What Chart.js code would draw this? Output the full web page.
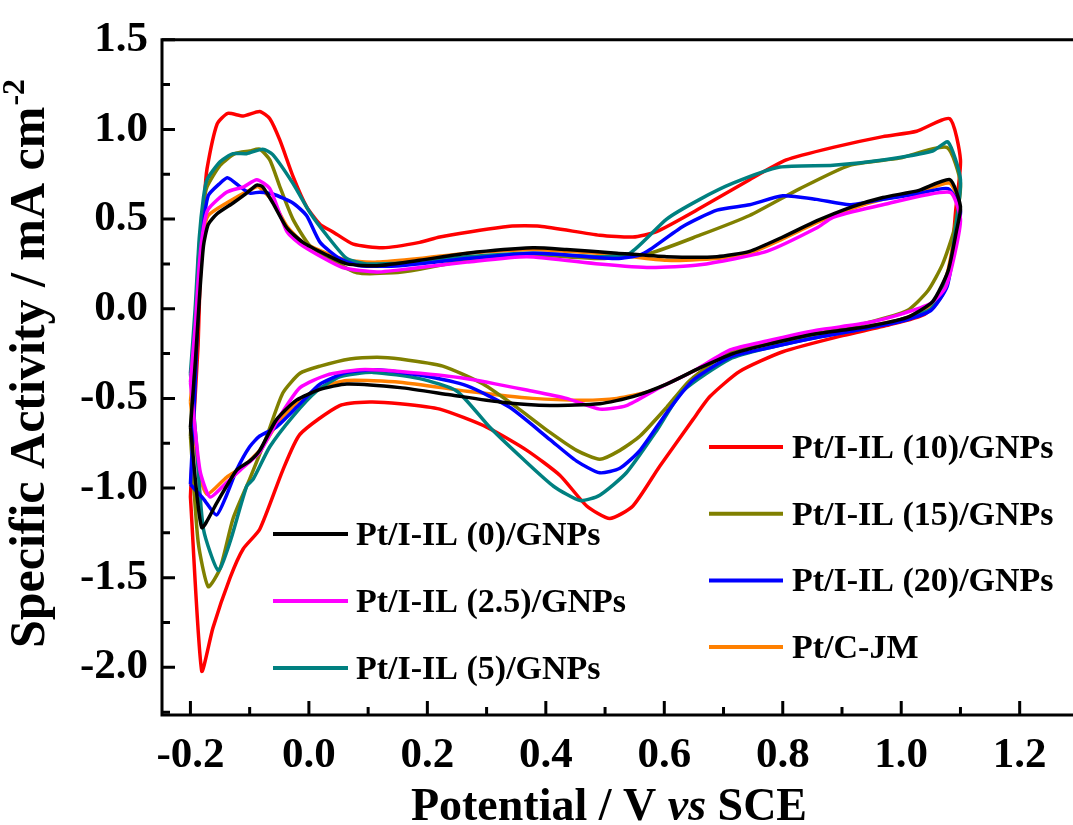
<!DOCTYPE html>
<html>
<head>
<meta charset="utf-8">
<script src="https://cdn.jsdelivr.net/npm/chart.js@4.4.1/dist/chart.umd.min.js"></script>
<style>
  html, body { margin: 0; padding: 0; background: #fff; overflow: hidden; }
  #wrap { width: 1073px; height: 825px; position: relative; }
</style>
</head>
<body>
<div id="wrap"><canvas id="c" width="1073" height="825"></canvas></div>
<script>
// ---------------- data ----------------
const seriesNames = ['Pt/I-IL (0)/GNPs', 'Pt/I-IL (2.5)/GNPs', 'Pt/I-IL (5)/GNPs',
                     'Pt/I-IL (10)/GNPs', 'Pt/I-IL (15)/GNPs', 'Pt/I-IL (20)/GNPs', 'Pt/C-JM'];

// Pt/I-IL (0)/GNPs  (anodic sweep then cathodic sweep)
const il0E = [-0.200,-0.192,-0.185,-0.178,-0.170,-0.155,-0.128,-0.105,-0.088,-0.078,
  -0.061,-0.037,-0.010,0.030,0.064,0.115,0.187,0.267,0.378,0.435,
  0.520,0.604,0.689,0.744,0.800,0.857,0.918,0.969,1.030,1.082,1.100,
  1.093,1.079,1.053,1.009,0.941,0.857,0.773,0.716,0.660,0.604,
  0.547,0.491,0.407,0.322,0.238,0.154,0.064,0.019,-0.021,-0.055,
  -0.083,-0.100,-0.122,-0.155,-0.181,-0.200];
const il0J = [-0.66,-0.31,0.05,0.35,0.47,0.53,0.59,0.645,0.69,0.68,
  0.59,0.45,0.37,0.30,0.25,0.24,0.27,0.31,0.34,0.33,
  0.31,0.29,0.29,0.32,0.40,0.49,0.57,0.62,0.66,0.72,0.57,
  0.43,0.21,0.04,-0.05,-0.10,-0.14,-0.20,-0.25,-0.33,-0.42,
  -0.49,-0.53,-0.54,-0.52,-0.48,-0.44,-0.42,-0.45,-0.51,-0.62,
  -0.79,-0.85,-0.90,-1.08,-1.22,-0.66];

// Pt/I-IL (2.5)/GNPs
const il25E = [-0.200,-0.192,-0.185,-0.178,-0.170,-0.139,-0.110,-0.088,-0.066,-0.037,
  -0.010,0.057,0.115,0.187,0.267,0.368,0.490,0.576,0.660,0.773,
  0.857,0.885,0.969,1.082,1.100,
  1.090,1.075,1.050,1.000,0.940,0.857,0.773,0.711,0.648,0.592,
  0.536,0.491,0.435,0.378,0.267,0.154,0.086,0.030,-0.015,-0.049,
  -0.083,-0.116,-0.139,-0.167,-0.184,-0.200];
const il25J = [-0.41,-0.10,0.25,0.45,0.555,0.65,0.68,0.72,0.67,0.43,
  0.35,0.23,0.205,0.23,0.26,0.29,0.25,0.23,0.245,0.32,
  0.45,0.51,0.58,0.65,0.50,
  0.30,0.12,0.03,-0.03,-0.08,-0.12,-0.18,-0.23,-0.35,-0.44,
  -0.54,-0.56,-0.50,-0.46,-0.39,-0.35,-0.34,-0.37,-0.44,-0.60,
  -0.80,-0.90,-0.97,-1.05,-0.90,-0.41];

// Pt/I-IL (5)/GNPs
const il5E = [-0.200,-0.192,-0.185,-0.178,-0.172,-0.150,-0.128,-0.105,-0.078,-0.061,
  -0.027,0.002,0.030,0.064,0.098,0.187,0.267,0.378,0.491,0.542,
  0.604,0.660,0.716,0.795,0.885,0.969,1.053,1.079,1.100,
  1.090,1.077,1.050,1.000,0.940,0.857,0.773,0.711,0.631,0.587,
  0.536,0.491,0.458,0.413,0.362,0.305,0.250,0.187,0.108,0.052,
  0.013,-0.027,-0.066,-0.094,-0.105,-0.133,-0.153,-0.178,-0.190,-0.200];
const il5J = [-0.36,0.00,0.40,0.62,0.72,0.82,0.865,0.865,0.89,0.86,
  0.70,0.535,0.41,0.28,0.25,0.26,0.29,0.31,0.29,0.31,
  0.50,0.61,0.70,0.79,0.80,0.83,0.88,0.93,0.72,
  0.40,0.15,0.00,-0.06,-0.11,-0.16,-0.22,-0.28,-0.46,-0.68,
  -0.915,-1.04,-1.07,-0.99,-0.84,-0.66,-0.46,-0.39,-0.355,-0.38,
  -0.46,-0.60,-0.77,-0.95,-0.99,-1.30,-1.46,-1.23,-0.75,-0.36];

// Pt/I-IL (10)/GNPs
const il10E = [-0.200,-0.194,-0.187,-0.184,-0.176,-0.172,-0.155,-0.137,-0.111,-0.083,
  -0.066,-0.049,-0.027,-0.004,0.019,0.040,0.075,0.125,0.187,0.221,
  0.339,0.390,0.491,0.547,0.587,0.660,0.744,0.806,0.885,0.969,
  1.026,1.082,1.100,
  1.092,1.085,1.070,1.040,0.980,0.901,0.800,0.727,0.677,0.648,
  0.592,0.547,0.508,0.469,0.424,0.368,0.300,0.221,0.154,0.103,
  0.052,-0.015,-0.044,-0.083,-0.111,-0.133,-0.162,-0.181,-0.200];
const il10J = [-1.05,-0.60,-0.20,0.13,0.63,0.78,1.03,1.09,1.075,1.10,
  1.06,0.94,0.74,0.57,0.47,0.43,0.36,0.34,0.37,0.40,
  0.46,0.46,0.41,0.40,0.43,0.56,0.72,0.83,0.90,0.96,
  0.99,1.06,0.83,
  0.55,0.30,0.08,-0.03,-0.09,-0.15,-0.24,-0.35,-0.49,-0.62,
  -0.88,-1.10,-1.17,-1.10,-0.93,-0.79,-0.66,-0.56,-0.53,-0.52,
  -0.54,-0.70,-0.90,-1.23,-1.34,-1.50,-1.78,-2.02,-1.05];

// Pt/I-IL (15)/GNPs
const il15E = [-0.200,-0.193,-0.186,-0.178,-0.172,-0.150,-0.125,-0.100,-0.083,-0.066,
  -0.049,-0.027,0.002,0.040,0.081,0.142,0.187,0.267,0.378,0.491,
  0.576,0.660,0.744,0.829,0.913,0.997,1.077,1.100,
  1.090,1.070,1.045,1.010,0.940,0.857,0.773,0.711,0.643,0.604,
  0.559,0.525,0.491,0.452,0.407,0.351,0.294,0.226,0.154,0.115,
  0.069,0.019,-0.015,-0.044,-0.071,-0.100,-0.128,-0.150,-0.170,-0.187,
  -0.200];
const il15J = [-0.71,-0.20,0.30,0.58,0.68,0.80,0.865,0.88,0.89,0.83,
  0.68,0.50,0.35,0.27,0.20,0.20,0.22,0.27,0.30,0.28,
  0.31,0.41,0.52,0.67,0.80,0.84,0.90,0.70,
  0.45,0.25,0.10,-0.01,-0.08,-0.14,-0.20,-0.24,-0.40,-0.55,
  -0.71,-0.79,-0.84,-0.79,-0.69,-0.55,-0.42,-0.32,-0.28,-0.27,
  -0.28,-0.32,-0.36,-0.47,-0.71,-0.95,-1.17,-1.45,-1.55,-1.30,
  -0.71];

// Pt/I-IL (20)/GNPs
const il20E = [-0.200,-0.193,-0.187,-0.180,-0.170,-0.150,-0.137,-0.116,-0.100,-0.083,
  -0.061,-0.027,-0.004,0.019,0.052,0.086,0.154,0.267,0.378,0.435,
  0.520,0.559,0.576,0.632,0.689,0.744,0.800,0.857,0.913,0.969,
  1.026,1.079,1.100,
  1.090,1.077,1.050,1.000,0.940,0.857,0.773,0.711,0.648,0.604,
  0.559,0.525,0.491,0.452,0.407,0.339,0.267,0.187,0.115,0.064,
  0.019,-0.015,-0.055,-0.083,-0.100,-0.122,-0.139,-0.156,-0.178,-0.200];
const il20J = [-0.98,-0.50,0.00,0.40,0.63,0.70,0.73,0.68,0.645,0.65,
  0.64,0.59,0.52,0.37,0.28,0.24,0.24,0.28,0.31,0.30,
  0.28,0.30,0.33,0.46,0.55,0.58,0.63,0.61,0.58,0.61,
  0.64,0.67,0.55,
  0.35,0.12,-0.01,-0.07,-0.11,-0.16,-0.22,-0.27,-0.40,-0.58,
  -0.79,-0.89,-0.915,-0.85,-0.73,-0.55,-0.43,-0.37,-0.34,-0.355,
  -0.42,-0.53,-0.66,-0.71,-0.77,-0.90,-1.04,-1.15,-1.06,-0.98];

// Pt/C-JM
const jmE = [-0.200,-0.192,-0.185,-0.178,-0.170,-0.139,-0.095,-0.085,-0.061,-0.037,
  -0.010,0.030,0.064,0.115,0.187,0.267,0.378,0.435,0.520,0.604,
  0.689,0.744,0.800,0.857,0.918,0.969,1.030,1.082,1.100,
  1.090,1.077,1.053,1.009,0.941,0.857,0.773,0.711,0.648,0.576,
  0.520,0.463,0.378,0.267,0.154,0.064,0.019,-0.015,-0.049,-0.083,
  -0.111,-0.139,-0.172,-0.185,-0.200];
const jmJ = [-0.52,-0.20,0.20,0.42,0.52,0.59,0.67,0.68,0.60,0.46,
  0.37,0.31,0.27,0.26,0.28,0.31,0.33,0.32,0.30,0.27,
  0.28,0.31,0.39,0.48,0.56,0.61,0.65,0.70,0.55,
  0.40,0.19,0.03,-0.05,-0.10,-0.14,-0.19,-0.24,-0.35,-0.46,
  -0.50,-0.51,-0.50,-0.46,-0.41,-0.40,-0.44,-0.51,-0.62,-0.79,
  -0.88,-0.94,-1.035,-0.92,-0.52];

// axis ticks
const xTickValues = [-0.2, 0.0, 0.2, 0.4, 0.6, 0.8, 1.0, 1.2];
const xMinorValues = [-0.1, 0.1, 0.3, 0.5, 0.7, 0.9, 1.1];
const yTickValues = [-2.0, -1.5, -1.0, -0.5, 0.0, 0.5, 1.0, 1.5];
const yMinorValues = [-2.25, -1.75, -1.25, -0.75, -0.25, 0.25, 0.75, 1.25];
const xRange = [-0.248, 1.29];
const yRange = [-2.266, 1.5];

// ---------------- styling ----------------
const SERIF = "'Liberation Serif', 'Times New Roman', serif";
const colors = {
  il0: '#000000', il25: '#FF00FF', il5: '#008080', il10: '#FF0000',
  il15: '#808000', il20: '#0000FF', jm: '#FF8000'
};

function pts(E, J) { return E.map((e, i) => ({ x: e, y: J[i] })); }

function ds(label, E, J, color) {
  return {
    label, data: pts(E, J), borderColor: color, backgroundColor: color,
    borderWidth: 3.5, pointRadius: 0, showLine: true, tension: 0.2, fill: false
  };
}

// first dataset is drawn on top
const datasets = [
  ds(seriesNames[0], il0E, il0J, colors.il0),
  ds(seriesNames[1], il25E, il25J, colors.il25),
  ds(seriesNames[5], il20E, il20J, colors.il20),
  ds(seriesNames[2], il5E, il5J, colors.il5),
  ds(seriesNames[4], il15E, il15J, colors.il15),
  ds(seriesNames[6], jmE, jmJ, colors.jm),
  ds(seriesNames[3], il10E, il10J, colors.il10)
];

// legend layout (two groups inside the plot)
const legendLeft = [seriesNames[0], seriesNames[1], seriesNames[2]];
const legendRight = [seriesNames[3], seriesNames[4], seriesNames[5], seriesNames[6]];

const decor = {
  id: 'decor',
  afterDraw(chart) {
    const { ctx, chartArea: a, scales: { x, y } } = chart;
    ctx.save();
    ctx.strokeStyle = '#000';
    ctx.lineWidth = 3;
    ctx.lineCap = 'butt';
    // frame: left, bottom, top
    ctx.beginPath();
    ctx.moveTo(a.left - 1.5, a.top); ctx.lineTo(a.right, a.top);
    ctx.moveTo(a.left, a.top); ctx.lineTo(a.left, a.bottom + 1.5);
    ctx.moveTo(a.left - 1.5, a.bottom); ctx.lineTo(a.right, a.bottom);
    ctx.stroke();
    // ticks (inward)
    ctx.beginPath();
    xTickValues.forEach(v => { const p = x.getPixelForValue(v); ctx.moveTo(p, a.bottom); ctx.lineTo(p, a.bottom - 14); });
    xMinorValues.forEach(v => { const p = x.getPixelForValue(v); ctx.moveTo(p, a.bottom); ctx.lineTo(p, a.bottom - 8); });
    yTickValues.forEach(v => { const p = y.getPixelForValue(v); ctx.moveTo(a.left, p); ctx.lineTo(a.left + 13, p); });
    yMinorValues.forEach(v => { const p = y.getPixelForValue(v); ctx.moveTo(a.left, p); ctx.lineTo(a.left + 8, p); });
    ctx.stroke();

    // legend
    const byLabel = {};
    chart.data.datasets.forEach(d => { byLabel[d.label] = d.borderColor; });
    ctx.font = 'bold 34px ' + SERIF;
    ctx.textBaseline = 'alphabetic';
    ctx.textAlign = 'left';
    ctx.lineWidth = 4;
    const drawGroup = (labels, x0, x1, tx, y0, dy) => {
      labels.forEach((lab, i) => {
        const yy = y0 + i * dy;
        ctx.strokeStyle = byLabel[lab];
        ctx.beginPath(); ctx.moveTo(x0, yy); ctx.lineTo(x1, yy); ctx.stroke();
        ctx.fillStyle = '#000';
        ctx.fillText(lab, tx, yy + 11);
      });
    };
    drawGroup(legendLeft, 273, 348, 356, 534, 67);
    drawGroup(legendRight, 709, 783, 792, 447, 66.7);

    // x title with italic "vs"
    const fs = 46;
    const parts = [['Potential / V ', 'bold'], ['vs', 'italic bold'], [' SCE', 'bold']];
    let total = 0;
    parts.forEach(p => { ctx.font = p[1] + ' ' + fs + 'px ' + SERIF; p.w = ctx.measureText(p[0]).width; total += p.w; });
    let cx = 609 - total / 2;
    ctx.fillStyle = '#000';
    parts.forEach(p => { ctx.font = p[1] + ' ' + fs + 'px ' + SERIF; ctx.fillText(p[0], cx, 820); cx += p.w; });

    // y title with superscript
    const fy = 50;
    ctx.save();
    ctx.translate(44, 364);
    ctx.rotate(-Math.PI / 2);
    ctx.font = 'bold ' + fy + 'px ' + SERIF;
    const main = 'Specific Activity / mA cm';
    const w1 = ctx.measureText(main).width;
    ctx.font = 'bold 32px ' + SERIF;
    const sup = '-2';
    const w2 = ctx.measureText(sup).width;
    const sx = -(w1 + w2) / 2;
    ctx.font = 'bold ' + fy + 'px ' + SERIF;
    ctx.fillText(main, sx, 0);
    ctx.font = 'bold 32px ' + SERIF;
    ctx.fillText(sup, sx + w1 + 1, -20);
    ctx.restore();

    ctx.restore();
  }
};

new Chart(document.getElementById('c'), {
  type: 'scatter',
  data: { datasets },
  options: {
    responsive: false,
    animation: false,
    layout: { padding: { top: 32, right: 0, left: 0, bottom: 0 } },
    plugins: { legend: { display: false }, tooltip: { enabled: false } },
    scales: {
      x: {
        type: 'linear', min: xRange[0], max: xRange[1],
        grid: { display: false, drawTicks: false }, border: { display: false },
        afterBuildTicks: s => { s.ticks = xTickValues.map(v => ({ value: v })); },
        afterFit: s => { s.height = 110; },
        ticks: {
          autoSkip: false, maxRotation: 0, padding: 15, color: '#000',
          font: { family: SERIF, size: 43, weight: 'bold' },
          callback: v => Number(v).toFixed(1)
        }
      },
      y: {
        type: 'linear', min: yRange[0], max: yRange[1],
        grid: { display: false, drawTicks: false }, border: { display: false },
        afterBuildTicks: s => { s.ticks = yTickValues.map(v => ({ value: v })); },
        afterFit: s => { s.width = 162; },
        ticks: {
          autoSkip: false, padding: 14, color: '#000',
          font: { family: SERIF, size: 43, weight: 'bold' },
          callback: v => Number(v).toFixed(1)
        }
      }
    }
  },
  plugins: [decor]
});
</script>
</body>
</html>
